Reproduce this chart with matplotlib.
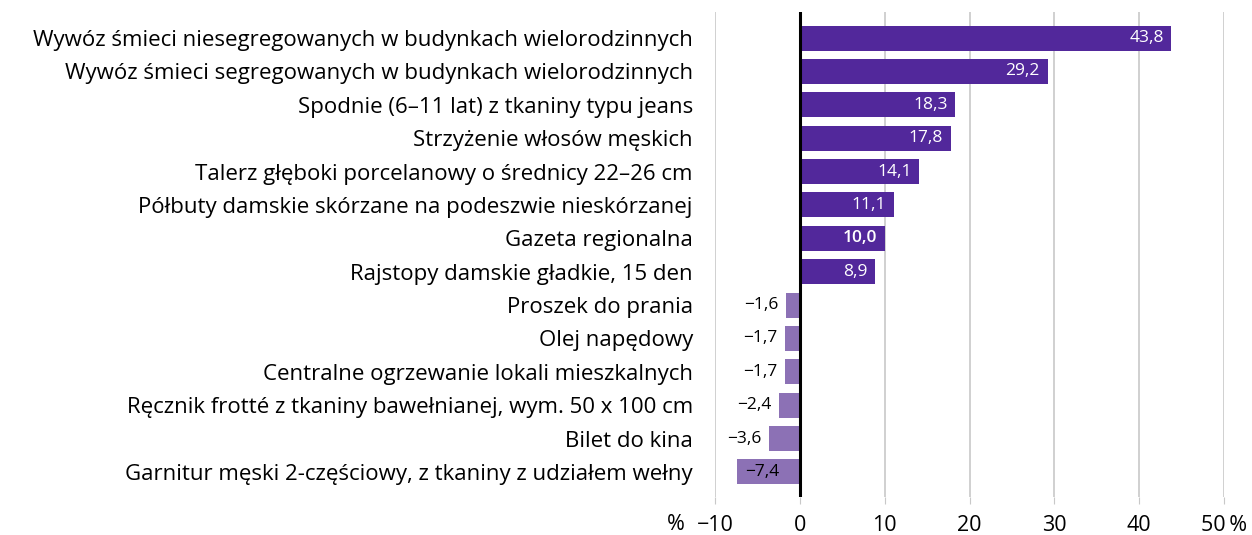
import matplotlib
matplotlib.use("Agg")
import matplotlib.pyplot as plt

plt.rcParams['font.family'] = ['Open Sans', 'DejaVu Sans']

# data
categories = [
    "Wywóz śmieci niesegregowanych w budynkach wielorodzinnych",
    "Wywóz śmieci segregowanych w budynkach wielorodzinnych",
    "Spodnie (6–11 lat) z tkaniny typu jeans",
    "Strzyżenie włosów męskich",
    "Talerz głęboki porcelanowy o średnicy 22–26 cm",
    "Półbuty damskie skórzane na podeszwie nieskórzanej",
    "Gazeta regionalna",
    "Rajstopy damskie gładkie, 15 den",
    "Proszek do prania",
    "Olej napędowy",
    "Centralne ogrzewanie lokali mieszkalnych",
    "Ręcznik frotté z tkaniny bawełnianej, wym. 50 x 100 cm",
    "Bilet do kina",
    "Garnitur męski 2-częściowy, z tkaniny z udziałem wełny",
]
values = [43.8, 29.2, 18.3, 17.8, 14.1, 11.1, 10.0, 8.9,
          -1.6, -1.7, -1.7, -2.4, -3.6, -7.4]
xticks = [-10, 0, 10, 20, 30, 40, 50]
xtick_labels = ["−10", "0", "10", "20", "30", "40", "50\u2009%"]

POS_COLOR = '#52289b'
NEG_COLOR = '#8c71b5'

fig = plt.figure(figsize=(12.52, 5.35), dpi=100)
ax = fig.add_axes([715/1252, 1 - 497/535, (1224-715)/1252, (497-12)/535])

ypos = list(range(len(categories)))
colors = [POS_COLOR if v > 0 else NEG_COLOR for v in values]
ax.barh(ypos, values, height=0.75, color=colors, zorder=3)

def fmt(v):
    return f"{v:.1f}".replace('.', ',').replace('-', '−')

for y, v in zip(ypos, values):
    if v > 0:
        ax.text(v - 0.9, y, fmt(v), ha='right', va='center', color='white',
                fontsize=12.5, zorder=4,
                fontweight='semibold' if v == 10.0 else 'normal')
    elif v > -5:
        ax.text(v - 0.9, y, fmt(v), ha='right', va='center', color='black',
                fontsize=12.5, zorder=4)
    else:
        ax.text(v + 0.9, y, fmt(v), ha='left', va='center', color='black',
                fontsize=12.5, zorder=4)

ax.set_xlim(-10, 50)
ax.set_ylim(len(categories) - 1 + 0.75, -0.78)
ax.set_yticks(ypos)
ax.set_yticklabels(categories, fontsize=16)
ax.tick_params(axis='y', length=0, pad=16)

ax.set_xticks(xticks)
ax.set_xticklabels(xtick_labels, fontsize=15.5)
ax.tick_params(axis='x', length=5, color='#c8c8c8', pad=8)
ax.get_xticklines()[2].set_color('black')

for x in xticks:
    if x != 0:
        ax.axvline(x, color='#c8c8c8', lw=1.2, zorder=1)
ax.axvline(0, color='black', lw=2.2, zorder=5)

for s in ax.spines.values():
    s.set_visible(False)

# % sign left of the -10 tick
trans = ax.get_xaxis_transform()
ax.text(-14.6, -0.0345, "%", transform=trans, ha='center', va='top', fontsize=15.5)

fig.savefig("out.png", dpi=100)
